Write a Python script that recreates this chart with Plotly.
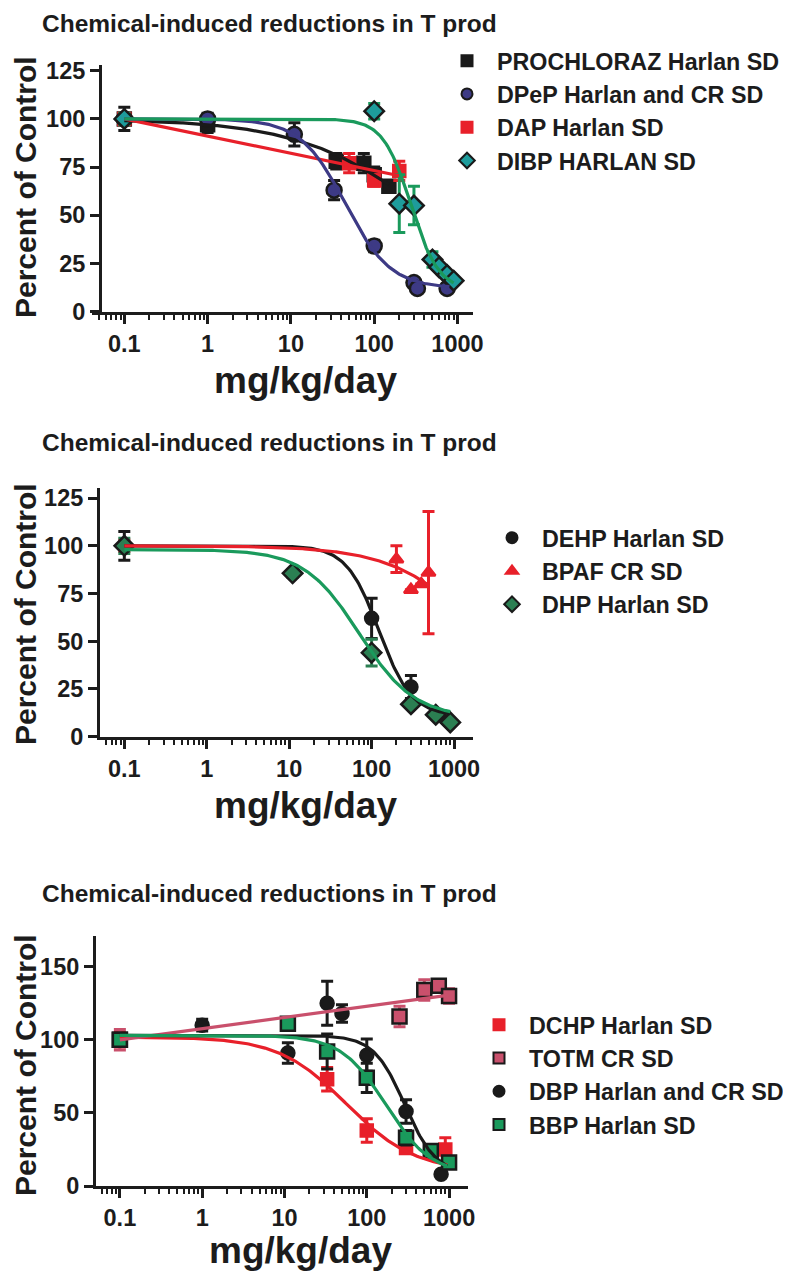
import numpy as np
import plotly.graph_objects as go

W, H = 791, 1280
OX, OY = 8, 8  # page body margin offset of the rendered figure
FONT = "Liberation Sans, Arial, Helvetica, sans-serif"
INK = "#1c1c1c"

# ---------------- data ----------------
title_text = "Chemical-induced reductions in T prod"
x_tickvals = [0.1, 1, 10, 100, 1000]
x_ticktext = ["0.1", "1", "10", "100", "1000"]
y_ticks_12 = [0, 25, 50, 75, 100, 125]
y_ticks_3 = [0, 50, 100, 150]

# Panel 1
pro_x = [0.1, 1, 35, 75, 100, 150]
pro_y = [100, 97, 78, 77, 71, 65]
pro_e = [6, 4, 4, 5, 4, 0]
dpep_x = [0.1, 1, 11, 33, 100, 300, 330, 750]
dpep_y = [100, 100, 92, 63, 34, 15, 12, 12]
dpep_e = [0, 3, 6, 5, 3, 0, 0, 0]
dap_x = [0.1, 50, 100, 200]
dap_y = [100, 77, 68, 73]
dap_e = [3, 5, 3, 5]
dibp_x = [0.1, 100, 200, 300, 500, 600, 750, 900]
dibp_y = [100, 104, 56, 55, 27, 23, 19, 16]
dibp_e = [3, 4, 15, 10, 4, 0, 0, 0]

# Panel 2
dehp_x = [0.1, 100, 300]
dehp_y = [100, 62, 26]
dehp_e = [7.5, 10.5, 6]
bpaf_x = [0.1, 200, 300, 400, 490]
bpaf_y = [100, 93, 77, 80, 86]
bpaf_e = [3, 7, 0, 0, 32]
dhp_x = [0.1, 11, 100, 300, 600, 900]
dhp_y = [100, 85.6, 44, 17, 11.5, 7.5]
dhp_e = [4, 2, 7, 0, 0, 0]

# Panel 3
dchp_x = [0.1, 33, 100, 300, 900]
dchp_y = [100, 73, 38, 26, 25]
dchp_e = [5, 8, 8, 3, 8]
totm_x = [0.1, 250, 500, 750, 1000]
totm_y = [100, 116, 134, 137, 130]
totm_e = [7, 7, 7, 4, 5]
dbp_x = [0.1, 1, 11, 33, 50, 100, 300, 800]
dbp_y = [100, 110, 91, 125, 118, 89.5, 51, 8]
dbp_e = [0, 4, 7, 15, 6, 11, 8, 0]
bbp_x = [0.1, 11, 33, 100, 300, 600, 1000]
bbp_y = [100, 111, 92, 74, 33, 24, 16]
bbp_e = [0, 0, 12, 10, 5, 0, 0]

# fitted curves: [top, bottom, EC50, hill slope, x start, x end]
fit_pro = [100, 0, 485, 0.56, 0.1, 150]
fit_dpep = [100, 12, 45, 1.6, 0.1, 800]
fit_dibp = [100, 11, 275, 2.6, 0.1, 900]
fit_dehp = [100, 11, 123, 2.2, 0.1, 900]
fit_bpaf = [100, 0, 2660, 0.8, 0.1, 500]
fit_dhp = [98, 10, 71, 1.3, 0.1, 900]
fit_dchp = [102, 10, 57, 1.05, 0.1, 950]
fit_dbp = [103, 8, 290, 2.3, 0.1, 950]
fit_bbp = [103, 8, 170, 1.6, 0.1, 950]
# straight (log-linear) fits: x ends, y ends
lin_dap_x = [0.1, 200]
lin_dap_y = [100, 70.5]
lin_totm_x = [0.1, 1000]
lin_totm_y = [100, 130.6]


def hill(p):
    top, bot, ec50, h, x0, x1 = p
    x = np.logspace(np.log10(x0), np.log10(x1), 240)
    return x, bot + (top - bot) / (1 + (x / ec50) ** h)


def fx(px):
    return (px - OX) / W


def fy(py):
    return 1 - (py - OY) / H


fig = go.Figure()

C_BLACK = "#1a1a1a"
C_NAVY = "#3d3a85"
C_RED = "#e8202a"
C_TEAL = "#1e9c9c"
C_GREEN = "#1a9a5c"
C_DKGREEN = "#2b7f52"
C_PINK = "#c9506c"


def points(x, y, e, ax, symbol, fill, outline, ecolor, size=14):
    fig.add_trace(go.Scatter(
        x=x, y=y, mode="markers", xaxis="x" + ax, yaxis="y" + ax,
        showlegend=False, hoverinfo="skip",
        marker=dict(symbol=symbol, size=size, color=fill,
                    line=dict(color=outline, width=2.5)),
        error_y=dict(type="data", array=e, visible=True, color=ecolor,
                     thickness=3, width=6)))


def curve(x, y, ax, color):
    fig.add_trace(go.Scatter(
        x=x, y=y, mode="lines", xaxis="x" + ax, yaxis="y" + ax,
        showlegend=False, hoverinfo="skip",
        line=dict(color=color, width=3.2)))


def legend_item(name, ax, leg, symbol, fill, outline, size=11):
    fig.add_trace(go.Scatter(
        x=[None], y=[None], mode="markers", name=name,
        xaxis="x" + ax, yaxis="y" + ax, legend=leg,
        marker=dict(symbol=symbol, size=size, color=fill,
                    line=dict(color=outline, width=2))))


# Panel 1
points(pro_x, pro_y, pro_e, "", "square", C_BLACK, C_BLACK, C_BLACK, 13)
points(dap_x, dap_y, dap_e, "", "square", C_RED, C_RED, C_RED, 12)
points(dpep_x, dpep_y, dpep_e, "", "circle", C_NAVY, C_BLACK, C_BLACK, 15)
points(dibp_x, dibp_y, dibp_e, "", "diamond", C_TEAL, C_BLACK, C_GREEN, 15)
curve(*hill(fit_pro), "", C_BLACK)
curve(lin_dap_x, lin_dap_y, "", C_RED)
curve(*hill(fit_dpep), "", C_NAVY)
curve(*hill(fit_dibp), "", C_GREEN)

# Panel 2
points(dehp_x, dehp_y, dehp_e, "2", "circle", C_BLACK, C_BLACK, C_BLACK, 13)
points(bpaf_x, bpaf_y, bpaf_e, "2", "triangle-up", C_RED, C_RED, C_RED, 12)
points(dhp_x, dhp_y, dhp_e, "2", "diamond", C_DKGREEN, C_BLACK, C_DKGREEN, 15)
curve(*hill(fit_dehp), "2", C_BLACK)
curve(*hill(fit_bpaf), "2", C_RED)
curve(*hill(fit_dhp), "2", C_GREEN)

# Panel 3
points(dchp_x, dchp_y, dchp_e, "3", "square", C_RED, C_RED, C_RED, 12)
points(totm_x, totm_y, totm_e, "3", "square", C_PINK, C_BLACK, C_PINK, 14)
points(dbp_x, dbp_y, dbp_e, "3", "circle", C_BLACK, C_BLACK, C_BLACK, 13)
points(bbp_x, bbp_y, bbp_e, "3", "square", C_GREEN, C_BLACK, C_BLACK, 14)
curve(*hill(fit_dchp), "3", C_RED)
curve(lin_totm_x, lin_totm_y, "3", C_PINK)
curve(*hill(fit_dbp), "3", C_BLACK)
curve(*hill(fit_bbp), "3", C_GREEN)

# legends
legend_item("PROCHLORAZ Harlan SD", "", "legend", "square", C_BLACK, C_BLACK)
legend_item("DPeP Harlan and CR SD", "", "legend", "circle", C_NAVY, C_BLACK)
legend_item("DAP Harlan SD", "", "legend", "square", C_RED, C_RED)
legend_item("DIBP HARLAN SD", "", "legend", "diamond", C_TEAL, C_BLACK, 12)
legend_item("DEHP Harlan SD", "2", "legend2", "circle", C_BLACK, C_BLACK)
legend_item("BPAF CR SD", "2", "legend2", "triangle-up", C_RED, C_RED)
legend_item("DHP Harlan SD", "2", "legend2", "diamond", C_DKGREEN, C_BLACK, 12)
legend_item("DCHP Harlan SD", "3", "legend3", "square", C_RED, C_RED)
legend_item("TOTM CR SD", "3", "legend3", "square", C_PINK, C_BLACK)
legend_item("DBP Harlan and CR SD", "3", "legend3", "circle", C_BLACK, C_BLACK)
legend_item("BBP Harlan SD", "3", "legend3", "square", C_GREEN, C_BLACK)

minor_vals = [m * 10.0 ** d for d in range(-2, 4) for m in range(2, 10)]


def xax(px0, px1, lo, hi, anchor):
    return dict(domain=[fx(px0), fx(px1)], type="log", range=[lo, hi],
                anchor=anchor, showgrid=False, zeroline=False, automargin=False,
                showline=True, linecolor=INK, linewidth=3,
                ticks="outside", ticklen=9, tickwidth=2.5, tickcolor=INK,
                tickmode="array", tickvals=x_tickvals, ticktext=x_ticktext,
                tickfont=dict(family=FONT, size=23.5, color=INK, weight="bold"),
                minor=dict(tickmode="array", tickvals=minor_vals, ticks="outside",
                           ticklen=5, tickwidth=2, tickcolor=INK, showgrid=False))


def yax(pyb, pyt, top, tv, anchor, xpos=None):
    d = dict(domain=[fy(pyb), fy(pyt)], range=[0, top],
             anchor=anchor, showgrid=False, zeroline=False, automargin=False,
             showline=True, linecolor=INK, linewidth=3,
             ticks="outside", ticklen=9, tickwidth=2.5, tickcolor=INK,
             tickmode="array", tickvals=tv,
             tickfont=dict(family=FONT, size=23.5, color=INK, weight="bold"))
    if xpos is not None:
        d["anchor"] = "free"
        d["position"] = fx(xpos)
    return d


layout = dict(
    width=W, height=H,
    margin=dict(l=0, r=0, t=0, b=0, pad=0, autoexpand=False),
    paper_bgcolor="white", plot_bgcolor="white",
    font=dict(family=FONT, color=INK),
    xaxis=xax(92, 473, -1.388, 3.186, "y"),
    yaxis=yax(311.5, 65, 128, y_ticks_12, "x", xpos=100),
    xaxis2=xax(100, 473, -1.295, 3.23, "y2"),
    yaxis2=yax(736.7, 488, 130.3, y_ticks_12, "x2"),
    xaxis3=xax(96, 468, -1.29, 3.23, "y3"),
    yaxis3=yax(1186, 936, 171, y_ticks_3, "x3"),
)

legfont = dict(family=FONT, size=23.3, color=INK, weight="bold")
common = dict(xanchor="left", yanchor="top", bgcolor="rgba(0,0,0,0)",
              itemclick=False, itemwidth=50, borderwidth=0, font=legfont)
layout["legend"] = dict(x=fx(437), y=fy(39), **common)
layout["legend2"] = dict(x=fx(482), y=fy(516), **common)
layout["legend3"] = dict(x=fx(469), y=fy(1003), **common)

fig.update_layout(**layout)

ann = []
# first title sits at the very top edge: anchor its box top to the paper top
ann.append(dict(text="<b>" + title_text + "</b>", x=fx(40), y=1.0,
                xref="paper", yref="paper", xanchor="left", yanchor="top",
                showarrow=False, font=dict(family=FONT, size=24.5, color=INK)))
for ty in [442, 893]:
    ann.append(dict(text="<b>" + title_text + "</b>", x=fx(40), y=fy(ty),
                    xref="paper", yref="paper", xanchor="left", yanchor="middle",
                    showarrow=False, font=dict(family=FONT, size=24.5, color=INK)))
for cy in [187, 614, 1065]:
    ann.append(dict(text="<b>Percent of Control</b>", x=fx(25), y=fy(cy),
                    xref="paper", yref="paper", xanchor="center", yanchor="middle",
                    textangle=-90, showarrow=False,
                    font=dict(family=FONT, size=30, color=INK)))
for cx, cy in [(305, 380), (305, 805), (300, 1250)]:
    ann.append(dict(text="<b>mg/kg/day</b>", x=fx(cx), y=fy(cy),
                    xref="paper", yref="paper", xanchor="center", yanchor="middle",
                    showarrow=False, font=dict(family=FONT, size=37, color=INK)))
fig.update_layout(annotations=ann)

fig.write_html("out.html")
